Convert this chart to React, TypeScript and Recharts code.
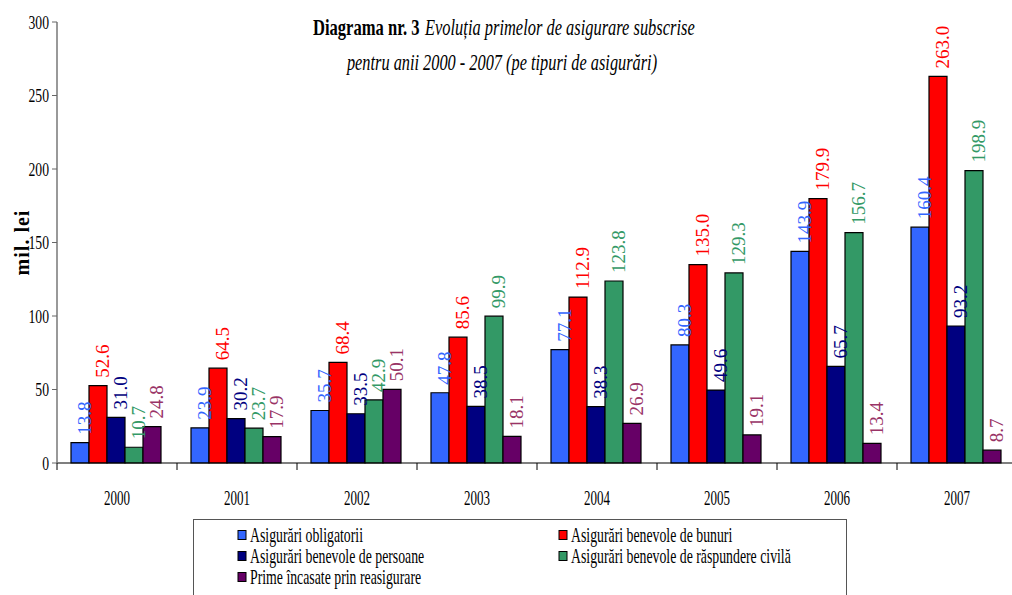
import React from 'react';
import { BarChart, Bar, XAxis, YAxis, LabelList, Legend, Label } from 'recharts';

const YEARS = ['2000', '2001', '2002', '2003', '2004', '2005', '2006', '2007'];
const OBLIGATORII = [13.8, 23.9, 35.7, 47.8, 77.1, 80.3, 143.9, 160.4];
const BUNURI = [52.6, 64.5, 68.4, 85.6, 112.9, 135.0, 179.9, 263.0];
const PERSOANE = [31.0, 30.2, 33.5, 38.5, 38.3, 49.6, 65.7, 93.2];
const RASPUNDERE = [10.7, 23.7, 42.9, 99.9, 123.8, 129.3, 156.7, 198.9];
const REASIGURARE = [24.8, 17.9, 50.1, 18.1, 26.9, 19.1, 13.4, 8.7];
const Y_TICKS = [0, 50, 100, 150, 200, 250, 300];

const SERIES = [
  { key: 'obligatorii', name: 'Asigurări obligatorii', values: OBLIGATORII, fill: '#3366FF', label: '#3366FF' },
  { key: 'bunuri', name: 'Asigurări benevole de bunuri', values: BUNURI, fill: '#FF0000', label: '#FF0000' },
  { key: 'persoane', name: 'Asigurări benevole de persoane', values: PERSOANE, fill: '#000080', label: '#000080' },
  { key: 'raspundere', name: 'Asigurări benevole de răspundere civilă', values: RASPUNDERE, fill: '#339966', label: '#339966' },
  { key: 'reasigurare', name: 'Prime încasate prin reasigurare', values: REASIGURARE, fill: '#660066', label: '#993366' },
];

const data = YEARS.map((year, i) => {
  const row: Record<string, any> = { year };
  SERIES.forEach((s) => {
    row[s.key] = s.values[i];
  });
  return row;
});

const FONT = '"Liberation Serif", "Times New Roman", serif';

const YTick = (props: any) => {
  const { x, y, payload } = props;
  return (
    <text
      transform={`translate(${x},${y}) scale(0.72,1)`}
      textAnchor="end"
      dy="0.35em"
      fontSize={19}
      fontFamily={FONT}
      fill="#000"
    >
      {payload.value}
    </text>
  );
};

const XTick = (props: any) => {
  const { x, y, payload, width, visibleTicksCount } = props;
  const half = payload.offset != null && payload.offset > 0 ? payload.offset : width / visibleTicksCount / 2;
  return (
    <g>
      <line x1={x - half} x2={x - half} y1={y} y2={y + 7} stroke="#000" strokeWidth={1} />
      <text
        transform={`translate(${x},${y + 42}) scale(0.62,1)`}
        textAnchor="middle"
        fontSize={21}
        fontFamily={FONT}
        fill="#000"
      >
        {payload.value}
      </text>
    </g>
  );
};

const makeLabel = (color: string) => (props: any) => {
  const { x, y, width, value } = props;
  const cx = Number(x) + Number(width) / 2;
  return (
    <text
      transform={`translate(${cx + 11},${Number(y) - 8}) rotate(-90)`}
      fill={color}
      fontSize={19}
      fontFamily={FONT}
      textAnchor="start"
    >
      {Number(value).toFixed(1)}
    </text>
  );
};

const LegendBox = () => {
  return (
    <svg width={654} height={80} style={{ display: 'block', overflow: 'hidden' }}>
      <rect x={0.5} y={0.5} width={653} height={120} fill="#fff" stroke="#555" strokeWidth={1} />
      {SERIES.map((s, i) => {
        const col = i % 2;
        const row = Math.floor(i / 2);
        const sx = col === 0 ? 45 : 366;
        const cy = 16 + row * 21;
        return (
          <g key={s.key}>
            <rect x={sx} y={cy - 4.5} width={8} height={9} fill={s.fill} stroke="#000" strokeWidth={1} />
            <text
              transform={`translate(${sx + 12},${cy + 6.5}) scale(0.69,1)`}
              fontSize={20}
              fontFamily={FONT}
              fill="#000"
            >
              {s.name}
            </text>
          </g>
        );
      })}
    </svg>
  );
};

export default function App() {
  return (
    <div
      style={{
        position: 'fixed',
        left: 0,
        top: 0,
        width: 1012,
        height: 595,
        overflow: 'hidden',
        background: '#fff',
      }}
    >
      <BarChart
        width={1030}
        height={595}
        data={data}
        margin={{ top: 22, right: 13, left: 0, bottom: 92 }}
        barCategoryGap={14}
        barGap={0}
      >
        <XAxis
          dataKey="year"
          height={40}
          tickSize={0}
          tickMargin={0}
          tickLine={false}
          axisLine={{ stroke: '#000', strokeWidth: 1.2 }}
          tick={<XTick />}
          interval={0}
        />
        <YAxis
          width={57}
          domain={[0, 300]}
          ticks={Y_TICKS}
          tickSize={5}
          tickMargin={3}
          tickLine={{ stroke: '#666' }}
          axisLine={{ stroke: '#777', strokeWidth: 1.5 }}
          tick={<YTick />}
          interval={0}
        >
          <Label
            content={(p: any) => {
              const vb = p.viewBox || { x: 0, y: 22, width: 57, height: 441 };
              return (
                <text
                  transform={`translate(${vb.x + 29},${vb.y + vb.height / 2}) rotate(-90)`}
                  textAnchor="middle"
                  fontSize={20}
                  fontWeight="bold"
                  fontFamily={FONT}
                  letterSpacing={1}
                  fill="#000"
                >
                  mil. lei
                </text>
              );
            }}
          />
        </YAxis>
        <Legend
          layout="horizontal"
          verticalAlign="middle"
          align="center"
          content={<LegendBox />}
          wrapperStyle={{ position: 'absolute', left: 193, top: 519, width: 654, height: 80 }}
        />
        {SERIES.map((s) => (
          <Bar
            key={s.key}
            dataKey={s.key}
            name={s.name}
            fill={s.fill}
            stroke="#000"
            strokeWidth={1.2}
            isAnimationActive={false}
          >
            <LabelList dataKey={s.key} content={makeLabel(s.label)} />
          </Bar>
        ))}
      </BarChart>
      <svg
        width={1012}
        height={90}
        style={{ position: 'absolute', left: 0, top: 0, pointerEvents: 'none' }}
      >
        <text transform="translate(313,35) scale(0.72,1)" fontSize={23} fontWeight="bold" fontFamily={FONT} fill="#000">
          Diagrama nr. 3
        </text>
        <text transform="translate(425,35) scale(0.715,1)" fontSize={23} fontStyle="italic" fontFamily={FONT} fill="#000">
          Evoluția primelor de asigurare subscrise
        </text>
        <text transform="translate(502,70) scale(0.71,1)" textAnchor="middle" fontSize={23} fontFamily={FONT} fontStyle="italic" fill="#000">
          pentru anii 2000 - 2007 (pe tipuri de asigurări)
        </text>
      </svg>
    </div>
  );
}
